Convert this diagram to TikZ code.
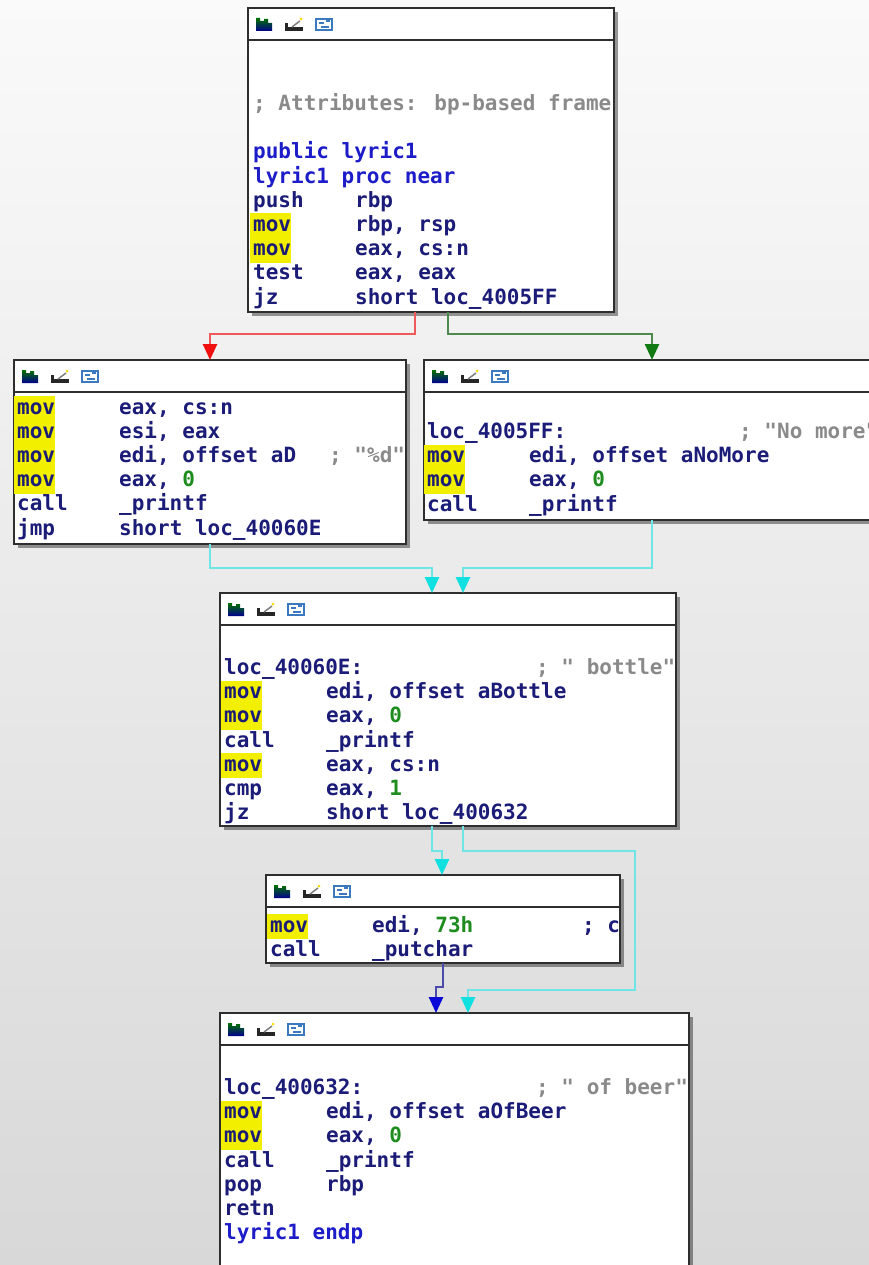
\documentclass[tikz,border=0pt]{standalone}
\usepackage{fontspec}
\usetikzlibrary{arrows.meta,calc,shadows}
\newfontfamily\codefont{DejaVu Sans Mono}
\definecolor{idanavy}{HTML}{1B1B78}
\definecolor{idablue}{HTML}{1C1CC8}
\definecolor{idagreen}{HTML}{1E8C1E}
\definecolor{idagray}{HTML}{8A8A8A}
\definecolor{hl}{HTML}{F2F000}
\definecolor{idaborder}{HTML}{2E2E2E}
\definecolor{bgtop}{HTML}{FAFAFA}
\definecolor{bgbot}{HTML}{D8D8D8}
\definecolor{redline}{HTML}{EE5A5A}
\definecolor{redhead}{HTML}{F01010}
\definecolor{greenline}{HTML}{4E8A4E}
\definecolor{greenhead}{HTML}{127A12}
\definecolor{cyanline}{HTML}{6EE6E6}
\definecolor{cyanhead}{HTML}{10E0E0}
\definecolor{blueline}{HTML}{4A4AA8}
\definecolor{bluehead}{HTML}{0A0AD8}
\definecolor{idaicon}{HTML}{3A78C0}
\newcommand\idaL[2]{\hbox{\makebox[102pt][l]{#1}#2}}
\newcommand\idaC[3]{\hbox{\makebox[102pt][l]{#1}\makebox[210pt][l]{#2}#3}}
\newcommand\idaLoc[2]{\hbox{\makebox[312pt][l]{#1}#2}}
\newcommand\hlmov{\rlap{\kern-3pt\textcolor{hl}{\rule[-7pt]{41pt}{25.2pt}}}mov}
\newcommand\num[1]{\textcolor{idagreen}{#1}}
\newcommand\cmt[1]{\textcolor{idagray}{#1}}
\newcommand\kw[1]{\textcolor{idablue}{#1}}
\newcommand\idaicons[1]{%
  \begin{scope}[shift={(#1.north west)}]
    \shade[top color=green!45!black, bottom color=blue!55!black]
      (8,23)--(8,10)--(12,10)--(12,13)--(16,13)--(16,11)--(20,11)--(20,15)--(24,15)--(24,23)--cycle;
    \fill[black!85] (37,19) rectangle (55,23);
    \fill[black!85] (37,15) rectangle (40,23);
    \draw[black!50, line width=1.5pt] (44,19) -- (52,13);
    \fill[yellow!80!orange] (53,11) circle (1.5);
    \draw[idaicon, line width=1.5pt] (68,11) rectangle (84,22);
    \draw[idaicon, line width=1.2pt] (71,15) -- (76,15) (73,19) -- (81,19) (78,13) -- (82,13);
  \end{scope}}
\begin{document}
\begin{tikzpicture}[x=1pt, y=-1pt,
  box/.style={draw=idaborder, line width=2pt, fill=white, rectangle, inner sep=0pt,
    outer sep=0pt, anchor=north west,
    drop shadow={shadow xshift=4pt, shadow yshift=-4pt, fill=black, opacity=0.4}},
  hdr/.style={draw=idaborder, line width=2pt},
  code/.style={anchor=base west, inner sep=0pt, text=idanavy,
    font=\codefont\bfseries\fontsize{21}{24.2}\selectfont},
  redE/.style={draw=redline, line width=2.6pt,
    -{Triangle[width=14pt,length=16pt,color=redhead,fill=redhead]}},
  greenE/.style={draw=greenline, line width=2.6pt,
    -{Triangle[width=14pt,length=16pt,color=greenhead,fill=greenhead]}},
  cyanE/.style={draw=cyanline, line width=2.6pt,
    -{Triangle[width=14pt,length=16pt,color=cyanhead,fill=cyanhead]}},
  blueE/.style={draw=blueline, line width=2.6pt,
    -{Triangle[width=14pt,length=16pt,color=bluehead,fill=bluehead]}}]
\useasboundingbox (0,0) rectangle (869,1265);
\begin{scope}
\clip (0,0) rectangle (869,1265);
\shade[top color=bgtop, bottom color=bgbot] (0,0) rectangle (869,1265);

% boxes
\node[box, minimum width=366pt, minimum height=304pt] (A) at (248,8) {};
\node[box, minimum width=392pt, minimum height=184pt] (B) at (14,360) {};
\node[box, minimum width=456pt, minimum height=160pt] (C) at (424,360) {};
\node[box, minimum width=456pt, minimum height=233pt] (D) at (220,593) {};
\node[box, minimum width=354pt, minimum height=88pt] (E) at (266,875) {};
\node[box, minimum width=469pt, minimum height=290pt] (F) at (220,1013) {};

\foreach \b in {A,B,C,D,E,F}{
  \draw[hdr] ($(\b.north west)+(0,32)$) -- ($(\b.north east)+(0,32)$);
}
\idaicons{A}\idaicons{B}\idaicons{C}\idaicons{D}\idaicons{E}\idaicons{F}

% texts
\node[code] (At) at (253,110.5) {\vtop{\lineskiplimit=-20pt
  \hbox{\cmt{; Attributes: bp-based frame}}
  \hbox{}
  \hbox{\kw{public lyric1}}
  \hbox{\kw{lyric1 proc near}}
  \idaL{push}{rbp}
  \idaL{\hlmov}{rbp, rsp}
  \idaL{\hlmov}{eax, cs:n}
  \idaL{test}{eax, eax}
  \idaL{jz}{short loc\_4005FF}}};

\node[code] (Bt) at (17,414) {\vtop{\lineskiplimit=-20pt
  \idaL{\hlmov}{eax, cs:n}
  \idaL{\hlmov}{esi, eax}
  \idaC{\hlmov}{edi, offset aD}{\cmt{; "\%d"}}
  \idaL{\hlmov}{eax, \num{0}}
  \idaL{call}{\_printf}
  \idaL{jmp}{short loc\_40060E}}};

\node[code] (Ct) at (427,438.5) {\vtop{\lineskiplimit=-20pt
  \idaLoc{loc\_4005FF:}{\cmt{; "No more"}}
  \idaL{\hlmov}{edi, offset aNoMore}
  \idaL{\hlmov}{eax, \num{0}}
  \idaL{call}{\_printf}}};

\node[code] (Dt) at (224,674.5) {\vtop{\lineskiplimit=-20pt
  \idaLoc{loc\_40060E:}{\cmt{; " bottle"}}
  \idaL{\hlmov}{edi, offset aBottle}
  \idaL{\hlmov}{eax, \num{0}}
  \idaL{call}{\_printf}
  \idaL{\hlmov}{eax, cs:n}
  \idaL{cmp}{eax, \num{1}}
  \idaL{jz}{short loc\_400632}}};

\node[code] (Et) at (270,932) {\vtop{\lineskiplimit=-20pt
  \idaC{\hlmov}{edi, \num{73h}}{; c}
  \idaL{call}{\_putchar}}};

\node[code] (Ft) at (224,1094.5) {\vtop{\lineskiplimit=-20pt
  \idaLoc{loc\_400632:}{\cmt{; " of beer"}}
  \idaL{\hlmov}{edi, offset aOfBeer}
  \idaL{\hlmov}{eax, \num{0}}
  \idaL{call}{\_printf}
  \idaL{pop}{rbp}
  \hbox{retn}
  \hbox{\kw{lyric1 endp}}}};

% connectors
\draw[redE] ($(A.south west)+(167,0)$) -- ++(0,22) -| ($(B.north west)+(196,0)$);
\draw[greenE] ($(A.south west)+(200,0)$) -- ++(0,22) -| ($(C.north west)+(228,0)$);
\draw[cyanE] ($(B.south west)+(196,0)$) -- ++(0,24) -| ($(D.north west)+(212,0)$);
\draw[cyanE] ($(C.south west)+(228,0)$) -- ++(0,48) -| ($(D.north west)+(243,0)$);
\draw[cyanE] ($(D.south west)+(212,0)$) -- ++(0,25) -| ($(E.north west)+(176,0)$);
\draw[cyanE] ($(D.south west)+(243,0)$) -- ++(0,25) -- ++(172,0) -- ++(0,139) -| ($(F.north west)+(248,0)$);
\draw[blueE] ($(E.south west)+(177,0)$) -- ++(0,24) -| ($(F.north west)+(216,0)$);
\end{scope}
\end{tikzpicture}
\end{document}
